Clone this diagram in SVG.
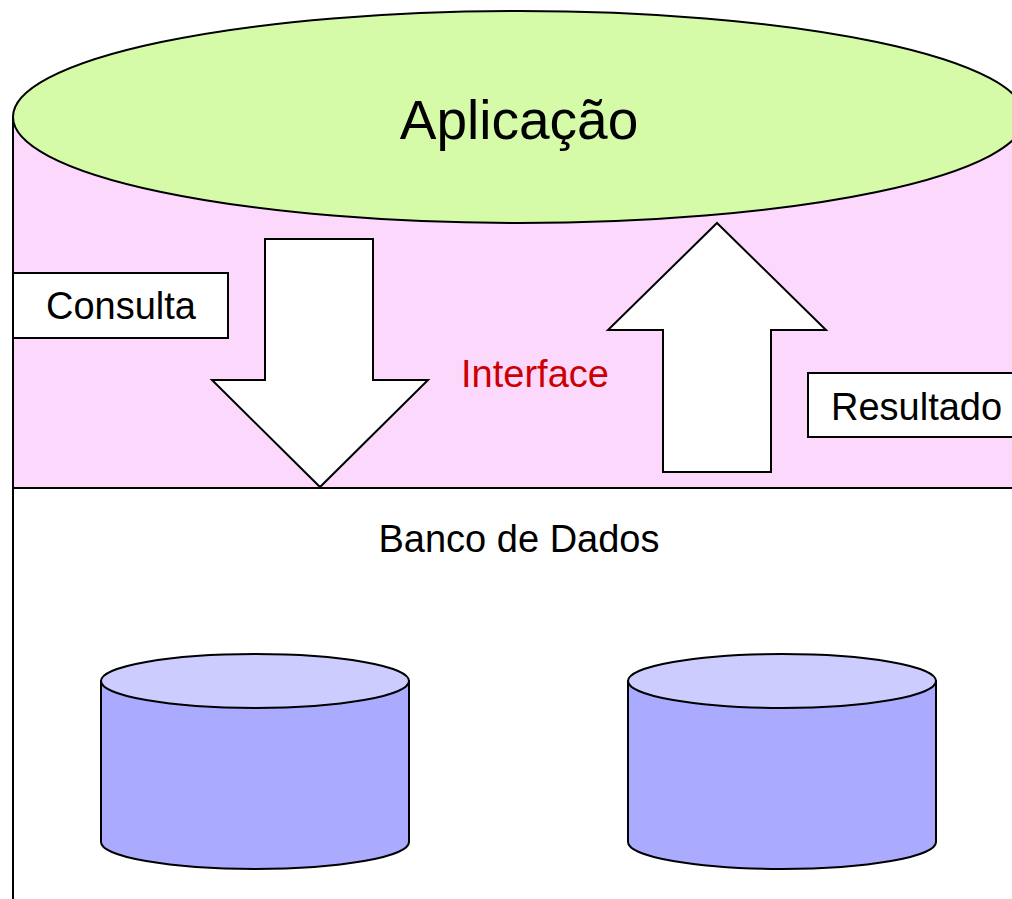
<svg xmlns="http://www.w3.org/2000/svg" width="1012" height="899" viewBox="0 0 1012 899">
  <style>
    .ln { stroke: #000; stroke-width: 2; }
    .txt { font-family: "Liberation Sans", Arial, sans-serif; fill: #000; }
    .lbl { fill: #fff; stroke: #000; stroke-width: 2; }
    .cylBody { fill: #AAAAFF; stroke: #000; stroke-width: 2; }
    .cylTop { fill: #CCCCFF; stroke: #000; stroke-width: 2; }
  </style>
  <rect x="0" y="0" width="1012" height="899" fill="#fff"/>
  <g id="interface-body">
    <rect x="13" y="117" width="1010" height="371" fill="#FCD8FC"/>
    <line class="ln" x1="13" y1="117" x2="13" y2="899"/>
    <line class="ln" x1="13" y1="488" x2="1012" y2="488"/>
  </g>
  <g id="aplicacao">
    <ellipse cx="519" cy="117" rx="506" ry="106" fill="#D5FBA9" class="ln"/>
    <text class="txt" x="519" y="139" font-size="55" text-anchor="middle">Aplicação</text>
  </g>
  <g id="connectors">
    <polygon id="arrow-down" points="265,239 373,239 373,380 428,380 320,487 212,380 265,380" fill="#fff" stroke="#000" stroke-width="2" stroke-linejoin="miter"/>
    <polygon id="arrow-up" points="717,223 826,330 771,330 771,472 663,472 663,330 608,330" fill="#fff" stroke="#000" stroke-width="2" stroke-linejoin="miter"/>
  </g>
  <g id="consulta">
    <rect class="lbl" x="13" y="273" width="215" height="65"/>
    <text class="txt" x="121" y="319" font-size="38" text-anchor="middle">Consulta</text>
  </g>
  <g id="interface-label">
    <text class="txt" x="535" y="387" font-size="38" text-anchor="middle" style="fill:#CC0000">Interface</text>
  </g>
  <g id="resultado">
    <rect class="lbl" x="808" y="373" width="220" height="64"/>
    <text class="txt" x="831" y="420" font-size="38">Resultado</text>
  </g>
  <g id="banco-de-dados">
    <text class="txt" x="519" y="552" font-size="38" text-anchor="middle">Banco de Dados</text>
  </g>
  <g id="db1">
    <path class="cylBody" d="M101,681 L101,842 A154,27 0 0 0 409,842 L409,681 Z"/>
    <ellipse class="cylTop" cx="255" cy="681" rx="154" ry="27"/>
  </g>
  <g id="db2">
    <path class="cylBody" d="M628,681 L628,842 A154,27 0 0 0 936,842 L936,681 Z"/>
    <ellipse class="cylTop" cx="782" cy="681" rx="154" ry="27"/>
  </g>
</svg>
